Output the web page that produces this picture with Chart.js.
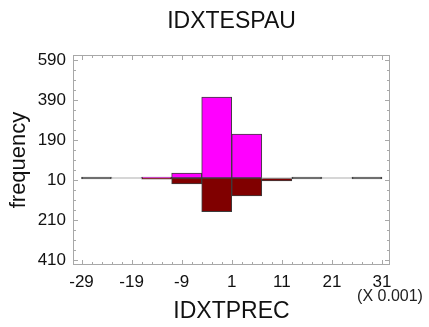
<!DOCTYPE html>
<html>
<head>
<meta charset="utf-8">
<title>IDXTESPAU</title>
<script src="https://cdn.jsdelivr.net/npm/chart.js@4.4.0/dist/chart.umd.min.js"></script>
<style>
  html, body { margin: 0; padding: 0; background: #fff; }
  #wrap { width: 429px; height: 327px; }
</style>
</head>
<body>
<div id="wrap"><canvas id="histo" width="429" height="327"></canvas></div>
<script>
// bin centres (x 0.001), bins are 6 wide from -29 to 31
const binCenters = [-26, -20, -14, -8, -2, 4, 10, 16, 22, 28];
// upper half: IDXTESPAU, lower half: IDXTPREC
const espauCounts = [1, 0, 2, 24, 405, 220, 0, 1, 0, 1];
const precCounts  = [1, 0, 6, 30, 168, 90, 15, 1, 0, 1];

const xTicks = [-29, -19, -9, 1, 11, 21, 31];
const yTicks = [-410, -210, -10, 190, 390, 590];

const FONT = "'Liberation Sans', Arial, sans-serif";

// ---------------- FRAME, INNER TICKS, TEXT ----------------
const framePlugin = {
  id: "frame",
  afterDraw(chart) {
    const { ctx, chartArea: a, scales } = chart;
    const xs = scales.x, ys = scales.y;
    ctx.save();
    ctx.strokeStyle = "#a8a8a8";
    ctx.lineWidth = 1;
    ctx.strokeRect(a.left + 0.5, a.top + 0.5, a.width - 1, a.height - 1);

    ctx.beginPath();
    // x ticks, minor every 2
    for (let v = -29; v <= 31; v += 2) {
      const px = Math.round(xs.getPixelForValue(v)) + 0.5;
      const len = xTicks.includes(v) ? 5 : 3;
      ctx.moveTo(px, a.bottom); ctx.lineTo(px, a.bottom - len);
      ctx.moveTo(px, a.top); ctx.lineTo(px, a.top + len);
    }
    // y ticks, minor every 50
    for (let v = -410; v <= 590; v += 50) {
      const py = Math.round(ys.getPixelForValue(v)) + 0.5;
      const len = yTicks.includes(v) ? 5 : 3;
      ctx.moveTo(a.left, py); ctx.lineTo(a.left + len, py);
      ctx.moveTo(a.right, py); ctx.lineTo(a.right - len, py);
    }
    ctx.stroke();

    ctx.textAlign = "center";
    ctx.textBaseline = "middle";
    ctx.fillStyle = "#111";
    ctx.font = "23px " + FONT;
    ctx.fillText("IDXTESPAU", (a.left + a.right) / 2, 22);

    ctx.fillStyle = "#222";
    ctx.font = "16px " + FONT;
    ctx.fillText("(X 0.001)", 390, 297);
    ctx.restore();
  }
};

// tiny bins show as a dark rule, empty bins as a light one
const barColor = (base) => (c) => {
  if (!c.raw) return base;
  const n = Math.abs(c.raw.y);
  if (n === 0) return "#c8c8c8";
  if (n < 2) return "#444";
  return base;
};

new Chart(document.getElementById("histo"), {
  type: "bar",
  data: {
    datasets: [
      {
        label: "IDXTESPAU",
        data: binCenters.map((x, i) => ({ x: x, y: espauCounts[i] })),
        backgroundColor: barColor("#ff00ff"),
        borderColor: barColor("#3c3c3c")
      },
      {
        label: "IDXTPREC",
        data: binCenters.map((x, i) => ({ x: x, y: -precCounts[i] })),
        backgroundColor: barColor("#800000"),
        borderColor: barColor("#3c3c3c")
      }
    ]
  },
  options: {
    responsive: false,
    animation: false,
    layout: { padding: { left: 0, right: 39, top: 55, bottom: 0 } },
    datasets: {
      bar: {
        barPercentage: 1,
        categoryPercentage: 1,
        grouped: false,
        borderWidth: 1,
        borderSkipped: false,
        minBarLength: 1
      }
    },
    plugins: {
      legend: { display: false },
      tooltip: { enabled: false },
      title: { display: false }
    },
    scales: {
      x: {
        type: "linear",
        min: -30.7,
        max: 32.6,
        offset: false,
        grid: { display: false, drawTicks: false },
        border: { display: false },
        afterBuildTicks(scale) { scale.ticks = xTicks.map(v => ({ value: v })); },
        afterFit(scale) { scale.height = 62; },
        ticks: {
          color: "#111",
          padding: 7,
          maxRotation: 0,
          font: { family: FONT, size: 17 },
          callback: v => String(v)
        },
        title: {
          display: true,
          text: "IDXTPREC",
          color: "#111",
          font: { family: FONT, size: 23 },
          padding: { top: 0, bottom: 2 }
        }
      },
      y: {
        min: -435,
        max: 615,
        grid: { display: false, drawTicks: false },
        border: { display: false },
        afterBuildTicks(scale) { scale.ticks = yTicks.map(v => ({ value: v })); },
        afterFit(scale) { scale.width = 73; },
        ticks: {
          color: "#111",
          padding: 7,
          font: { family: FONT, size: 17 },
          callback: v => String(Math.abs(v))
        },
        title: {
          display: true,
          text: "frequency",
          color: "#111",
          font: { family: FONT, size: 22 },
          padding: { top: 6, bottom: 0 }
        }
      }
    }
  },
  plugins: [framePlugin]
});
</script>
</body>
</html>
